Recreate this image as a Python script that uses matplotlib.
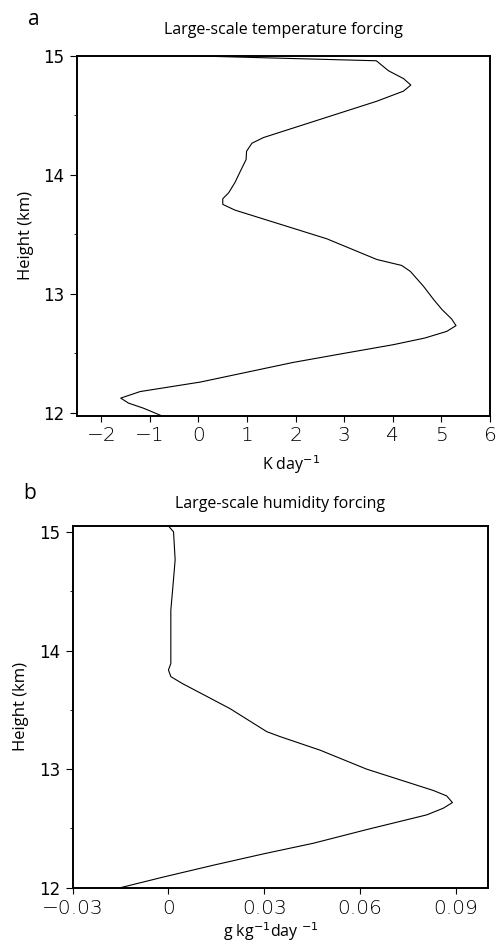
import numpy as np
import matplotlib
matplotlib.use('Agg')
import matplotlib.pyplot as plt
from matplotlib.ticker import MultipleLocator

# Panel a: large-scale temperature forcing (K/day) vs height (km)
temp_forcing = [0.0, 3.66, 3.91, 4.22, 4.37, 4.22, 3.67, 1.34, 1.10, 0.99, 0.98,
                0.86, 0.75, 0.62, 0.50, 0.50, 0.75, 2.64, 3.67, 4.18, 4.36, 4.63,
                4.84, 5.01, 5.21, 5.30, 5.11, 4.66, 4.01, 2.98, 1.95, 0.04, -1.20,
                -1.60, -1.44, -1.13, -0.75]
temp_height = [15.0, 14.96, 14.876, 14.81, 14.756, 14.705, 14.62, 14.315, 14.267,
               14.20, 14.13, 14.03, 13.936, 13.85, 13.80, 13.753, 13.705, 13.464,
               13.29, 13.24, 13.19, 13.065, 12.953, 12.87, 12.79, 12.734, 12.686,
               12.63, 12.574, 12.50, 12.425, 12.26, 12.18, 12.125, 12.083, 12.04,
               11.975]

# Panel b: large-scale humidity forcing (g/kg/day) vs height (km)
hum_forcing = [0.0, 0.0016, 0.0021, 0.0014, 0.00075, 0.00075, 0.00075, 0.0,
               0.00075, 0.0042, 0.0193, 0.0308, 0.035, 0.0475, 0.0621, 0.083,
               0.0872, 0.089, 0.0861, 0.0809, 0.0621, 0.0454, 0.0297, 0.0141,
               -0.0016, -0.0151]
hum_height = [15.05, 15.0, 14.764, 14.54, 14.34, 14.12, 13.89, 13.836, 13.78,
              13.724, 13.51, 13.316, 13.274, 13.16, 13.0, 12.82, 12.774, 12.718,
              12.67, 12.614, 12.49, 12.375, 12.285, 12.19, 12.09, 12.0]

temp_xticks = [-2, -1, 0, 1, 2, 3, 4, 5, 6]
temp_xlabels = ['\u22122', '\u22121', '0', '1', '2', '3', '4', '5', '6']
hum_xticks = [-0.03, 0, 0.03, 0.06, 0.09]
hum_xlabels = ['\u22120.03', '0', '0.03', '0.06', '0.09']
yticks = [12, 13, 14, 15]

sans = ['Open Sans', 'DejaVu Sans']

fig = plt.figure(figsize=(4.98, 9.46), dpi=100)
ax1 = fig.add_axes([0.1546, 0.5603, 0.8294, 0.3805])
ax2 = fig.add_axes([0.146, 0.0616, 0.833, 0.3824])


def style(ax, xticks, xlabels, xlim, ylim, xpad):
    ax.set_xlim(*xlim)
    ax.set_ylim(*ylim)
    ax.set_xticks(xticks)
    ax.set_xticklabels(xlabels, family='DejaVu Sans', fontweight=200, fontsize=14.5)
    ax.set_yticks(yticks)
    ax.set_yticklabels([str(t) for t in yticks], family='DejaVu Sans', fontsize=12)
    ax.yaxis.set_minor_locator(MultipleLocator(0.5))
    ax.tick_params(axis='y', which='major', length=5, width=0.8, pad=4)
    ax.tick_params(axis='y', which='minor', length=2, width=0.6)
    ax.tick_params(axis='x', which='major', length=4, width=0.8, pad=xpad)
    for s in ax.spines.values():
        s.set_linewidth(1.4)
    ax.set_ylabel('Height (km)', family=sans, fontsize=12)


ax1.plot(temp_forcing, temp_height, color='black', lw=0.8)
style(ax1, temp_xticks, temp_xlabels, (-2.5, 6), (11.975, 15.0), 3)
ax1.yaxis.set_label_coords(-0.104, 0.5)
ax1.set_xlabel('K day$^{-1}$', family=sans, fontsize=11.5, labelpad=6)
ax1.xaxis.label.set_x(0.518)
ax1.set_title('Large-scale temperature forcing', family=sans, fontsize=11.5, pad=16)

ax2.plot(hum_forcing, hum_height, color='black', lw=0.8)
style(ax2, hum_xticks, hum_xlabels, (-0.03, 0.1), (12.0, 15.05), 4)
ax2.yaxis.set_label_coords(-0.105, 0.5)
ax2.set_xlabel('g kg$^{-1}$day $^{-1}$', family=sans, fontsize=11.5, labelpad=2)
ax2.xaxis.label.set_x(0.478)
ax2.set_title('Large-scale humidity forcing', family=sans, fontsize=11.5, pad=13)

fig.text(0.068, 0.979, 'a', family=sans, fontsize=15, ha='center', va='center')
fig.text(0.060, 0.478, 'b', family=sans, fontsize=15, ha='center', va='center')

fig.savefig('out.png', dpi=100)
